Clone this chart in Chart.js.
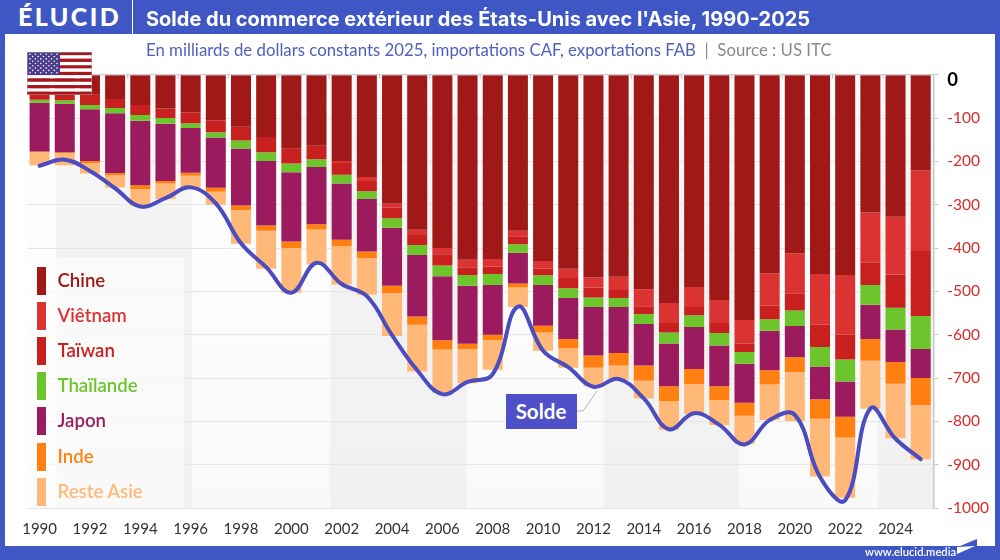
<!DOCTYPE html>
<html lang="fr">
<head>
<meta charset="utf-8">
<title>Solde du commerce extérieur des États-Unis avec l'Asie</title>
<script src="https://cdn.jsdelivr.net/npm/chart.js@4"></script>
<style>
  html, body { margin: 0; padding: 0; background: #fff; }
  #page { position: relative; width: 1000px; height: 560px; overflow: hidden; font-family: Lato, sans-serif; }
  #chart { position: absolute; left: 0; top: 0; }
  .bar { position: absolute; background: #3f57c4; }
  #logo { position: absolute; left: 18px; top: 0; color: #fff; font-size: 25px; font-weight: 900; letter-spacing: 2.4px; line-height: 32px; }
  #sep { position: absolute; left: 132px; top: 0; width: 1px; height: 34px; background: #fff; }
  #title { position: absolute; left: 146px; top: 6px; color: #fff; font-family: Inter, sans-serif; font-size: 20px; font-weight: 700; line-height: 26px; white-space: nowrap; }
  #subtitle { position: absolute; left: 146px; top: 40px; color: #4f5fbc; font-size: 16.8px; line-height: 20px; white-space: pre; }
  #subtitle span { color: #8a8a8a; }
  #flag { position: absolute; left: 27px; top: 52px; }
  #legend { position: absolute; left: 27px; top: 258px; width: 157px; height: 250px; background: rgba(255,255,255,.6); }
  .item { position: absolute; left: 0; height: 28px; }
  .item i { position: absolute; left: 9.5px; top: 0; width: 9px; height: 28px; }
  .item b { position: absolute; left: 30.5px; top: -1px; font-size: 18.6px; font-weight: 600; line-height: 28px; white-space: nowrap; }
  #solde { position: absolute; left: 505.5px; top: 393.5px; width: 71px; height: 35px; background: #4d50c6; color: #fff; font-size: 20.5px; font-weight: 700; line-height: 35px; text-align: center; }
  #site { position: absolute; left: 865px; top: 545px; color: #fff; font-size: 11.2px; font-weight: 600; line-height: 14px; white-space: nowrap; }
  #mark { position: absolute; left: 957px; top: 537px; }
</style>
</head>
<body>
<div id="page">
  <canvas id="chart" width="1000" height="560"></canvas>
  <div class="bar" style="left:0;top:0;width:1000px;height:34px"></div>
  <div class="bar" style="left:0;top:0;width:5px;height:560px"></div>
  <div class="bar" style="left:995px;top:0;width:5px;height:560px"></div>
  <div class="bar" style="left:0;top:546px;width:1000px;height:14px"></div>
  <div id="logo">ÉLUCID</div>
  <div id="sep"></div>
  <div id="title">Solde du commerce extérieur des États-Unis avec l'Asie, 1990-2025</div>
  <div id="subtitle">En milliards de dollars constants 2025, importations CAF, exportations FAB<span>  |  Source : US ITC</span></div>
  <svg id="flag" width="65" height="43" viewBox="0 0 65 43"></svg>
  <div id="legend"></div>
  <div id="solde">Solde</div>
  <div id="site">www.elucid.media</div>
  <svg id="mark" width="20" height="18" viewBox="0 0 20 18">
    <polygon points="3,9 20,2 20,9" fill="#3f57c4"/>
    <polygon points="0,10 18,9 0,17" fill="#fff"/>
  </svg>
</div>

<script>
const years = ['1990','1991','1992','1993','1994','1995','1996','1997','1998','1999','2000','2001',
  '2002','2003','2004','2005','2006','2007','2008','2009','2010','2011','2012','2013',
  '2014','2015','2016','2017','2018','2019','2020','2021','2022','2023','2024','2025'];

const chine = [-28,-31,-46,-56,-70,-78,-87,-105,-120,-144,-171,-164,
  -199,-236,-298,-358,-400,-427,-425,-360,-430,-448,-468,-466,
  -495,-527,-490,-520,-566,-458,-412,-460,-462,-318,-328,-221];
const vietnam = [0,0,0,0,0,0,0,0,0,0,0,0,
  -5,-9,-9,-12,-14,-17,-18,-13,-18,-21,-23,-31,
  -39,-46,-46,-53,-55,-75,-92,-117,-138,-115,-133,-186];
const taiwan = [-30,-28,-24,-21,-23,-22,-25,-28,-32,-35,-34,-31,
  -27,-24,-24,-23,-26,-18,-17,-18,-15,-24,-23,-18,
  -18,-22,-19,-23,-19,-31,-40,-51,-57,-52,-77,-150];
const thailande = [-7,-8,-10,-12,-13,-13,-11,-12,-18,-20,-20,-18,
  -20,-18,-22,-23,-25,-25,-25,-20,-22,-22,-22,-21,
  -23,-25,-27,-29,-27,-27,-36,-45,-51,-46,-50,-76];
const japon = [-112,-112,-119,-138,-149,-132,-103,-116,-132,-149,-160,-132,
  -130,-121,-134,-142,-148,-134,-115,-71,-94,-95,-112,-106,
  -96,-99,-97,-94,-90,-91,-72,-76,-81,-79,-75,-67];
const inde = [-2,-2,-5,-5,-9,-6,-7,-9,-10,-12,-15,-12,
  -15,-15,-17,-19,-21,-12,-12,-9,-16,-22,-28,-29,
  -35,-34,-35,-32,-30,-33,-34,-45,-48,-50,-50,-62];
const resteAsie = [-30,-28,-24,-28,-39,-36,-31,-30,-78,-88,-103,-81,
  -88,-85,-99,-108,-100,-79,-69,-45,-42,-44,-43,-33,
  -41,-66,-69,-57,-65,-82,-113,-133,-139,-111,-126,-125];
const solde = [-210,-196,-222,-262,-304,-285,-260,-297,-389,-444,-503,-434,
  -483,-511,-601,-682,-737,-709,-691,-535,-637,-675,-720,-702,
  -747,-818,-781,-808,-853,-797,-785,-928,-982,-770,-840,-887];

const seriesNames = ['Chine','Viêtnam','Taïwan','Thaïlande','Japon','Inde','Reste Asie'];
const seriesValues = [chine, vietnam, taiwan, thailande, japon, inde, resteAsie];
const seriesColors = ['#a01818','#db3232','#c81f1f','#6cc52a','#9b1b5e','#ff8010','#ffb877'];
const yTicks = [0,-100,-200,-300,-400,-500,-600,-700,-800,-900,-1000];

// background bands, in category units
const bandEdges = [-0.5, 0.66, 6.06, 11.54, 16.97, 22.4, 27.8, 33.3, 35.5];

// legend
const legend = document.getElementById('legend');
seriesNames.forEach((name, i) => {
  const item = document.createElement('div');
  item.className = 'item';
  item.style.top = (8.5 + i * 35.2) + 'px';
  item.innerHTML = '<i style="background:' + seriesColors[i] + '"></i><b style="color:' + seriesColors[i] + '">' + name + '</b>';
  legend.appendChild(item);
});

// flag
let flag = '';
for (let i = 0; i < 13; i++) {
  flag += '<rect x="0" y="' + (i * 43 / 13) + '" width="65" height="' + (43 / 13 + 0.1) + '" fill="' + (i % 2 ? '#fff' : '#a5161e') + '"/>';
}
flag += '<rect x="0" y="0" width="33" height="23" fill="#4a3b8c"/>';
for (let r = 0; r < 9; r++) {
  const n = r % 2 ? 5 : 6;
  for (let c = 0; c < n; c++) {
    flag += '<circle cx="' + (3 + (r % 2 ? 2.7 : 0) + c * 5.4) + '" cy="' + (2.3 + r * 2.3) + '" r="0.8" fill="#fff"/>';
  }
}
flag += '<rect x="0.25" y="0.25" width="64.5" height="42.5" fill="none" stroke="#b9a6a6" stroke-width="0.5"/>';
document.getElementById('flag').innerHTML = flag;

const backdrop = {
  id: 'backdrop',
  beforeDraw(chart) {
    const { ctx, chartArea: a, scales: { x } } = chart;
    for (let i = 0; i < bandEdges.length - 1; i++) {
      const x0 = x.getPixelForValue(bandEdges[i]);
      const x1 = x.getPixelForValue(bandEdges[i + 1]);
      const g = ctx.createLinearGradient(0, a.top, 0, a.bottom);
      if (i % 2) {
        g.addColorStop(0, '#fafafa');
        g.addColorStop(0.4, '#f2f2f2');
        g.addColorStop(1, '#f1f1f1');
      } else {
        g.addColorStop(0, '#ffffff');
        g.addColorStop(1, '#f9f9f9');
      }
      ctx.fillStyle = g;
      ctx.fillRect(x0, a.top, x1 - x0, a.bottom - a.top);
    }
  },
  afterDatasetsDraw(chart) {
    const { ctx, chartArea: a, scales: { x, y } } = chart;
    ctx.save();
    // small marks along the top, every second year
    ctx.strokeStyle = '#c4c4c4';
    ctx.lineWidth = 1;
    ctx.beginPath();
    years.forEach((yr, i) => {
      if (i % 2 === 0 && i > 0) {
        const px = x.getPixelForValue(i - 0.5);
        ctx.moveTo(px, a.top);
        ctx.lineTo(px, a.top + 4);
      }
    });
    ctx.moveTo(a.left, a.top);
    ctx.lineTo(a.right, a.top);
    ctx.stroke();
    // leader from the Solde label to the curve
    const lx = x.getPixelForValue(22.15);
    const ly = y.getPixelForValue(solde[22]);
    ctx.strokeStyle = '#b5b5b5';
    ctx.beginPath();
    ctx.moveTo(lx, ly + 4);
    ctx.lineTo(583, 411);
    ctx.lineTo(577, 411);
    ctx.stroke();
    ctx.restore();
  }
};

const datasets = seriesNames.map((name, i) => ({
  type: 'bar',
  label: name,
  data: seriesValues[i],
  backgroundColor: seriesColors[i],
  borderWidth: 0,
  barPercentage: 1,
  categoryPercentage: 0.795,
  order: 2
}));
datasets.push({
  type: 'line',
  label: 'Solde',
  data: solde,
  borderColor: '#4a4cbf',
  borderWidth: 4,
  tension: 0.4,
  cubicInterpolationMode: 'default',
  pointRadius: 0,
  borderCapStyle: 'round',
  fill: false,
  order: 1
});

new Chart(document.getElementById('chart'), {
  data: { labels: years, datasets: datasets },
  plugins: [backdrop],
  options: {
    responsive: false,
    animation: false,
    layout: { padding: { left: 27, top: 74.7, right: 0, bottom: 0 } },
    plugins: { legend: { display: false }, tooltip: { enabled: false } },
    scales: {
      x: {
        stacked: true,
        afterFit: s => { s.height = 51.9; },
        grid: { display: false },
        border: { display: false },
        ticks: {
          autoSkip: false,
          maxRotation: 0,
          padding: 4,
          color: '#333',
          font: { family: 'Lato', size: 15 },
          callback: (v, i) => (i % 2 === 0 ? years[i] : '')
        }
      },
      y: {
        position: 'right',
        stacked: true,
        min: -1000,
        max: 0,
        afterFit: s => { s.width = 66.7; },
        afterBuildTicks: s => { s.ticks = yTicks.map(v => ({ value: v })); },
        grid: { color: '#e6e6e6', lineWidth: 1, tickColor: '#c4c4c4', tickLength: 5 },
        border: { display: true, color: '#c8c8c8', width: 1.5 },
        ticks: {
          padding: 9,
          // the zero sits just under the top edge, hence the empty first line
          callback: v => (v === 0 ? ['', '0'] : String(v)),
          font: ctx => {
            const isZero = ctx.tick && ctx.tick.value === 0;
            return { family: 'Lato', size: isZero ? 18.5 : 15.5, weight: isZero ? '700' : '400', lineHeight: isZero ? 0.55 : 1.2 };
          },
          color: ctx => (ctx.tick && ctx.tick.value === 0 ? '#000' : '#d92b2b')
        }
      }
    }
  }
});
</script>
</body>
</html>
